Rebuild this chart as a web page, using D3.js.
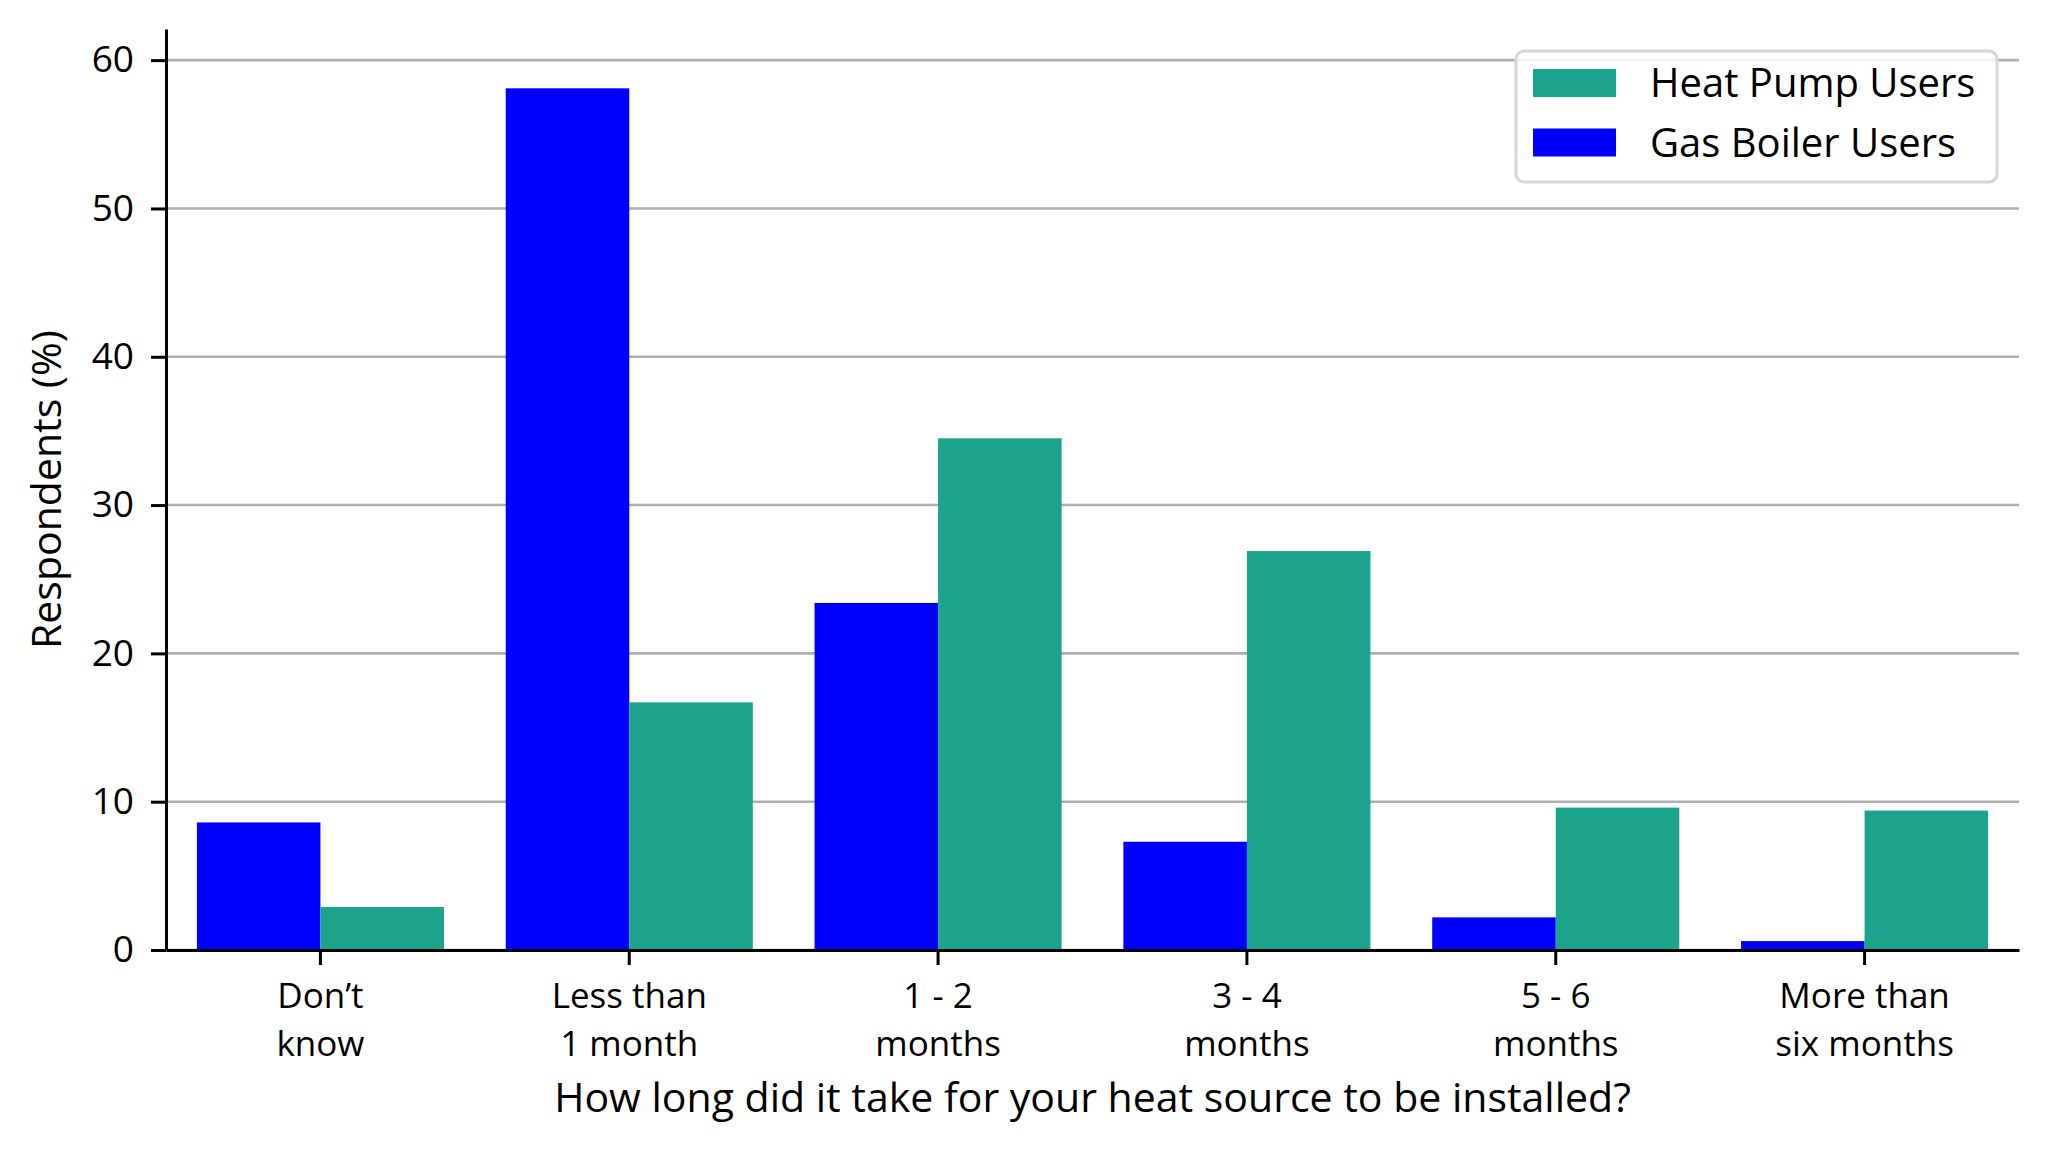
<!DOCTYPE html>
<html>
<head>
<meta charset="utf-8">
<script src="https://cdn.jsdelivr.net/npm/d3@7"></script>
<style>
  html, body { margin: 0; padding: 0; background: #fff; }
  svg { display: block; }
  text { font-family: "Open Sans", "Noto Sans", sans-serif; fill: #000; }
</style>
</head>
<body>
<svg id="chart" width="2048" height="1150"></svg>
<script>
// ---- data ----
const categories = [
  ["Don\u2019t", "know"],
  ["Less than", "1 month"],
  ["1 - 2", "months"],
  ["3 - 4", "months"],
  ["5 - 6", "months"],
  ["More than", "six months"]
];
const seriesNames = ["Gas Boiler Users", "Heat Pump Users"];
const gasBoiler = [8.6, 58.1, 23.4, 7.3, 2.2, 0.6];
const heatPump  = [2.9, 16.7, 34.5, 26.9, 9.6, 9.4];
const yTicks = [0, 10, 20, 30, 40, 50, 60];
const legendOrder = ["Heat Pump Users", "Gas Boiler Users"];
const colors = { "Gas Boiler Users": "#0000ff", "Heat Pump Users": "#1ba38b" };
const xTitle = "How long did it take for your heat source to be installed?";
const yTitle = "Respondents (%)";

// ---- layout ----
const plotL = 166, plotR = 2019, plotT = 29, plotB = 950;
const svg = d3.select("#chart");
const catKeys = categories.map(c => c.join(" "));
const seriesValues = { "Gas Boiler Users": gasBoiler, "Heat Pump Users": heatPump };

const x = d3.scaleBand().domain(catKeys).range([plotL, plotR]).paddingInner(0.2).paddingOuter(0.1);
const xs = d3.scaleBand().domain(seriesNames).range([0, x.bandwidth()]).padding(0);
const y = d3.scaleLinear().domain([0, 62.1]).range([plotB, plotT]);

// grid
svg.append("g").selectAll("line").data(yTicks).join("line")
  .attr("x1", plotL).attr("x2", plotR)
  .attr("y1", d => y(d)).attr("y2", d => y(d))
  .attr("stroke", "#b0b0b0").attr("stroke-width", 2.6);

// bars
const rows = [];
catKeys.forEach((k, i) => seriesNames.forEach(s => rows.push({ k, s, v: seriesValues[s][i] })));
svg.append("g").selectAll("rect").data(rows).join("rect")
  .attr("x", d => x(d.k) + xs(d.s))
  .attr("width", xs.bandwidth())
  .attr("y", d => y(d.v))
  .attr("height", d => y(0) - y(d.v))
  .attr("fill", d => colors[d.s]);

// y axis
const yAxis = svg.append("g").attr("transform", `translate(${plotL},0)`)
  .call(d3.axisLeft(y).tickValues(yTicks).tickSize(15).tickSizeOuter(0).tickPadding(17).tickFormat(d3.format("d")));
yAxis.select(".domain").attr("stroke", "#000").attr("stroke-width", 3);
yAxis.selectAll(".tick line").attr("stroke", "#000").attr("stroke-width", 3);
yAxis.selectAll(".tick text").attr("font-size", 37).attr("font-family", "Open Sans").attr("fill", "#000");

// x axis
const xAxis = svg.append("g").attr("transform", `translate(0,${plotB})`)
  .call(d3.axisBottom(x).tickSize(15).tickSizeOuter(0).tickFormat(""));
xAxis.select(".domain").attr("stroke", "#000").attr("stroke-width", 3);
xAxis.selectAll(".tick line").attr("stroke", "#000").attr("stroke-width", 3);
xAxis.selectAll(".tick text").remove();
xAxis.selectAll(".tick").each(function(d, i) {
  const t = d3.select(this).append("text")
    .attr("text-anchor", "middle").attr("font-size", 35).attr("font-family", "Open Sans").attr("fill", "#000");
  categories[i].forEach((line, j) => {
    t.append("tspan").attr("x", 0).attr("y", 58 + j * 48).text(line);
  });
});

// axis titles
svg.append("text").attr("x", (plotL + plotR) / 2).attr("y", 1112)
  .attr("text-anchor", "middle").attr("font-size", 41).text(xTitle);
svg.append("text").attr("transform", `translate(61,${(plotT + plotB) / 2}) rotate(-90)`)
  .attr("text-anchor", "middle").attr("font-size", 41).text(yTitle);

// legend
const lg = svg.append("g");
lg.append("rect").attr("x", 1516).attr("y", 51).attr("width", 481).attr("height", 131)
  .attr("rx", 8).attr("fill", "#fff").attr("fill-opacity", 0.85)
  .attr("stroke", "#d6d6d6").attr("stroke-width", 3);
legendOrder.forEach((s, i) => {
  lg.append("rect").attr("x", 1533).attr("y", 69 + i * 59.5).attr("width", 83).attr("height", 28)
    .attr("fill", colors[s]);
  lg.append("text").attr("x", 1650).attr("y", 97 + i * 59.5).attr("font-size", 40).text(s);
});
</script>
</body>
</html>
